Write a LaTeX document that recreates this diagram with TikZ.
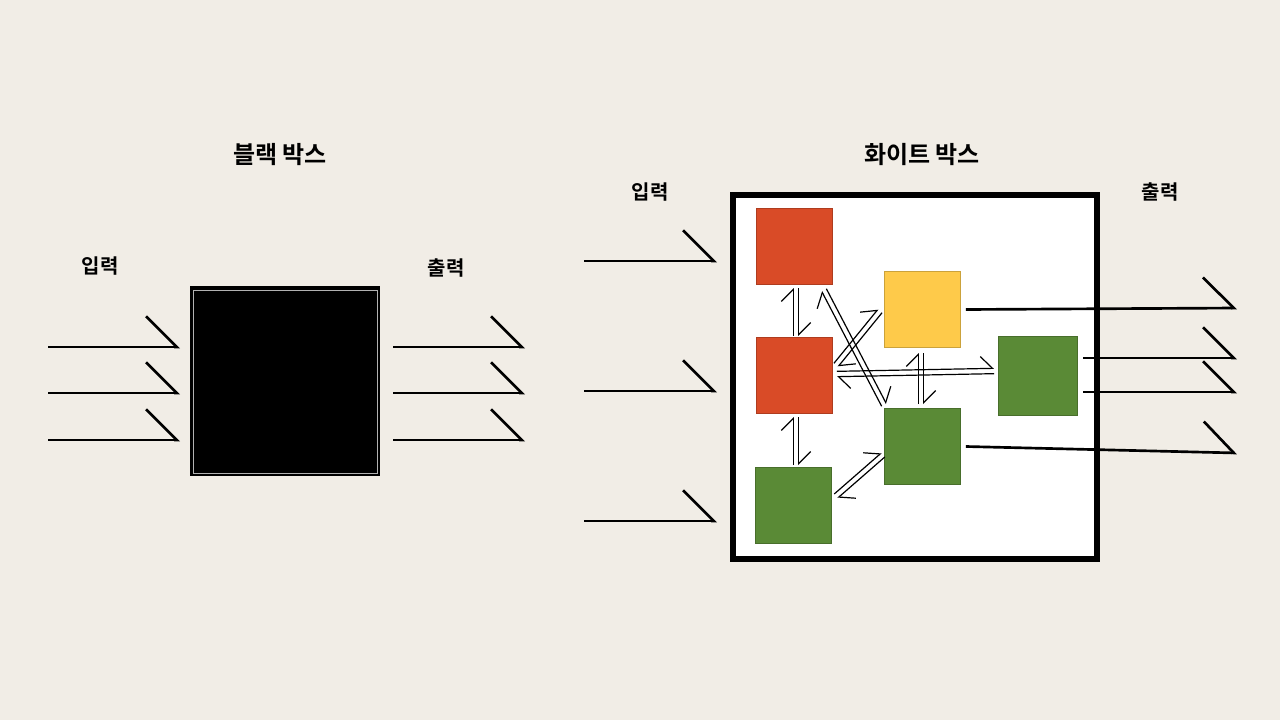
\documentclass[tikz,border=0pt]{standalone}
\usepackage{fontspec}
\newfontfamily\kr{Noto Sans CJK KR}[BoldFont={Noto Sans CJK KR Bold}]
\usetikzlibrary{arrows.meta,calc}
\definecolor{bg}{HTML}{F1EDE6}
\definecolor{cred}{HTML}{D94B27}
\definecolor{cyel}{HTML}{FECA4A}
\definecolor{cgrn}{HTML}{5A8A36}
\tikzset{
  sq/.style={minimum width=57pt,minimum height=57pt,inner sep=0pt,draw=#1!80!black,line width=0.4pt,fill=#1},
  io/.style={line width=2pt,-{Straight Barb[harpoon,length=23pt,width=46pt,line width=2pt]}},
  harp/.style={line width=0.9pt,-{Straight Barb[harpoon,length=9pt,width=18pt,line width=0.9pt]}},
  lab/.style={font=\kr\bfseries\fontsize{15}{15}\selectfont},
  ttl/.style={font=\kr\bfseries\fontsize{18}{18}\selectfont}
}
\newcommand\dpair[2]{%
  \draw[harp] ($(#1)!2pt!90:(#2)$) -- ($(#2)!2pt!-90:(#1)$);
  \draw[harp] ($(#2)!2pt!90:(#1)$) -- ($(#1)!2pt!-90:(#2)$);}
\begin{document}
\begin{tikzpicture}[x=0.75pt,y=-0.75pt]
\fill[bg] (0,0) rectangle (1280,720);
\useasboundingbox (0,0) rectangle (1280,720);
% black box
\node[ttl] (t1) at (280,155) {블랙 박스};
\node[lab] (in1) at (100,266) {입력};
\node[lab] (out1) at (446,268) {출력};
\node[draw=black,line width=2pt,fill=black,minimum width=140pt,minimum height=140pt,inner sep=0pt] (bb) at (285,381) {};
\draw[gray!60,line width=0.5pt] (193,290) rectangle (377,473);
\foreach \y/\n in {347/a,393/b,440/c}{
  \coordinate (ls\n) at (48,\y); \coordinate (le\n) at (180,\y);
  \coordinate (rs\n) at (393,\y); \coordinate (re\n) at (525,\y);
  \draw[io] (ls\n) -- (le\n);
  \draw[io] (rs\n) -- (re\n);
}
% white box
\node[ttl] (t2) at (922,155) {화이트 박스};
\node[lab] (in2) at (650,192) {입력};
\node[lab] (out2) at (1160,192) {출력};
\node[draw=black,line width=5pt,fill=white,minimum width=273pt,minimum height=273pt,inner sep=0pt] (wb) at (915,377) {};
\node[sq=cred] (r1) at (794,246) {};
\node[sq=cred] (r2) at (794,375.5) {};
\node[sq=cgrn] (g1) at (793.5,505) {};
\node[sq=cyel] (y1) at (922.5,309.5) {};
\node[sq=cgrn] (g2) at (922.5,446.5) {};
\node[sq=cgrn,minimum width=59pt,minimum height=59pt] (g3) at (1037.5,375.5) {};
\foreach \y/\n in {261/a,391/b,521/c}{
  \coordinate (ws\n) at (584,\y); \coordinate (we\n) at (717,\y);
  \draw[io] (ws\n) -- (we\n);
}
\coordinate (oy) at (1237,308); \coordinate (og2) at (1237,453);
\coordinate (o3a) at (1237,358); \coordinate (o3b) at (1237,392);
\draw[io] (y1.east) ++(5,0) coordinate (sy) (sy) -- (oy);
\draw[io] (g2.east) ++(5,0) coordinate (sg) (sg) -- (og2);
\coordinate (s3a) at (1083,358); \coordinate (s3b) at (1083,392);
\draw[io] (s3a) -- (o3a);
\draw[io] (s3b) -- (o3b);
% inner connections
\coordinate (p1) at (796,288); \coordinate (p2) at (796,336);
\coordinate (p3) at (796,417); \coordinate (p4) at (796,465);
\coordinate (p5) at (824,290); \coordinate (p6) at (884,405);
\coordinate (p7) at (836,365); \coordinate (p8) at (880,311);
\coordinate (p9) at (837,374); \coordinate (p10) at (994,371);
\coordinate (p11) at (921,353); \coordinate (p12) at (921,404);
\coordinate (p13) at (836,496); \coordinate (p14) at (883,455);
\dpair{p1}{p2}
\dpair{p3}{p4}
\dpair{p5}{p6}
\dpair{p7}{p8}
\dpair{p9}{p10}
\dpair{p11}{p12}
\dpair{p13}{p14}
\end{tikzpicture}
\end{document}
